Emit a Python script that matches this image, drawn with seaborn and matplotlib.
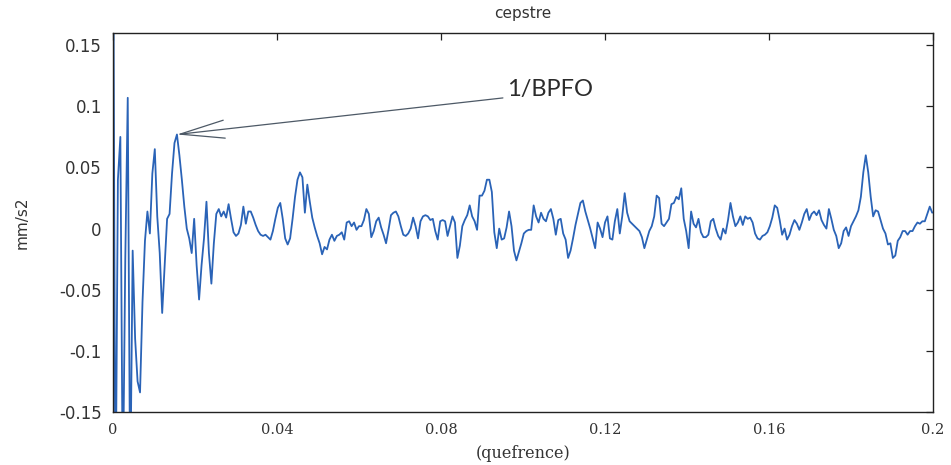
import numpy as np
import pandas as pd
import matplotlib
matplotlib.use("Agg")
import matplotlib.pyplot as plt
import seaborn as sns

# quefrency step between cepstrum bins (s)
dq = 0.0006

# real cepstrum of the vibration signal, in 1e-3 mm/s2, one value per bin
cep_milli = [
    300, -250, 40, 75, -220, -25, 107, -220, -18, -90,
    -125, -134, -60, -10, 14, -4, 45, 65, 10, -20,
    -69, -30, 8, 12, 45, 70, 77, 60, 40, 18,
    0, -8, -20, 8, -30, -58, -30, -8, 22, -20,
    -45, -12, 12, 16, 10, 14,
    9, 20, 8, -3, -6, -4, 3, 18, 4, 14,
    14, 9, 3, -2, -5, -6, -5, -7, -9, -2,
    8, 17, 21, 8, -8, -13, -8, 8, 26, 40,
    46, 42, 13, 36, 22, 9, 1, -6, -12, -21,
    -15, -17, -9, -5, -10, -6, -5, -3, -9, 5,
    6, 2, 5, -1, 2, 2, 7, 16, 12, -7,
    -2, 6, 9, 1, -5, -12, -1, 11, 13, 14,
    10,
    2, -5, -6, -4, 0, 9, 2, -8, 6, 10,
    11, 10, 7, 8, -2, -9, 6, 7, 6, -6,
    2, 10, 5, -24, -14, 2, 7, 11, 19, 10,
    6, -1, 27, 27, 31, 40, 40, 30, -3, -16,
    0, -9, -8, 1, 14, 2, -18, -26, -19, -12,
    -4, -2, -1, -1, 19, 10, 5, 13, 8, 6,
    13, 16, 8, -5, 7, 8, -4, -9, -24,
    -18, -8, 3, 12, 21, 23, 14, 7, 0, -8,
    -16, 5, 0, -7, 5, 10, -8, -9, 6, 16,
    -4, 10, 29, 13, 6, 4, 2, 0, -2, -7,
    -16, -9, -2, 2, 10, 27, 25, 4, 2, 5,
    8, 20, 21, 26, 24, 33, 8, -2, -16, 14,
    4, 1, 8, -3, -7, -7, -5, 6, 8, 0,
    -6, -9, 0, -4, 7, 21, 10, 2, 5, 10,
    3, 10, 8,
    9, 5, -4, -8, -9, -6, -5, -3, 2, 9,
    19, 17, 7, -5, 0, -9, -5, 2, 7, 4,
    -1, 5, 12, 16, 7, 12, 14, 11, 15, 7,
    3, 0, 16, 8, -1, -6, -16, -12, -2, 1,
    -6, 2, 6, 10, 15, 26, 46, 60, 46, 26,
    10, 15, 14, 7, 0, -4, -13, -12, -24, -22,
    -10, -7, -2, -2, -5, -2, -2, 2, 5, 4,
    6, 6, 12, 18, 13,
]

quefrency = np.arange(len(cep_milli)) * dq
cepstrum = np.array(cep_milli) / 1000.0

x_ticks = [0, 0.04, 0.08, 0.12, 0.16, 0.2]
x_tick_labels = ["0", "0.04", "0.08", "0.12", "0.16", "0.2"]
y_ticks = [-0.15, -0.1, -0.05, 0, 0.05, 0.1, 0.15]
y_tick_labels = ["-0.15", "-0.1", "-0.05", "0", "0.05", "0.1", "0.15"]

title_text = "cepstre"
x_label = "(quefrence)"
y_label = "mm/s2"
peak_label = "1/BPFO"

# outer-race defect rahmonic: largest cepstral peak between 12 and 30 ms
window = (quefrency > 0.012) & (quefrency < 0.03)
peak_idx = np.flatnonzero(window)[np.argmax(cepstrum[window])]

df = pd.DataFrame({"quefrency": quefrency, "cepstrum": cepstrum})

sns.set_style("white")
plt.rcParams["font.family"] = ["DejaVu Sans"]

fig = plt.figure(figsize=(9.51, 4.65), dpi=100)
ax = fig.add_axes([0.1188, 0.1140, 0.8623, 0.8150])

sns.lineplot(data=df, x="quefrency", y="cepstrum", ax=ax, color="#2a63b7",
             linewidth=1.3, estimator=None, sort=False)

ax.set_xlim(0, 0.2)
ax.set_ylim(-0.15, 0.16)

ax.set_xticks(x_ticks)
ax.set_xticklabels(x_tick_labels, family="DejaVu Serif", fontsize=10.5,
                   color="#333333")
ax.set_yticks(y_ticks)
ax.set_yticklabels(y_tick_labels, fontsize=12, color="#333333")
ax.tick_params(direction="in", top=True, right=True, length=5, width=0.9,
               color="#222222")
ax.tick_params(axis="x", pad=8)
ax.tick_params(axis="y", pad=8)

for sp in ax.spines.values():
    sp.set_color("#222222")
    sp.set_linewidth(1.0)

ax.set_title(title_text, fontsize=11, color="#333333", pad=11)
ax.set_xlabel(x_label, family="DejaVu Serif", fontsize=11.5, color="#333333",
              labelpad=6)
ax.set_ylabel(y_label, fontsize=11, color="#333333")
ax.yaxis.set_label_coords(-0.102, 0.5)

# arrow from the label down to the 1/BPFO rahmonic
ax.annotate("", xy=(quefrency[peak_idx], cepstrum[peak_idx]),
            xytext=(0.0951, 0.1069),
            arrowprops=dict(arrowstyle="->,head_length=3.2,head_width=0.65",
                            color="#4d5966", lw=0.9, shrinkA=0, shrinkB=0,
                            mutation_scale=10))
ax.text(0.0962, 0.1140, peak_label, ha="left", va="center", fontsize=17,
        family="Lato", color="#2b2b2b")

fig.savefig("out.png", dpi=100)
